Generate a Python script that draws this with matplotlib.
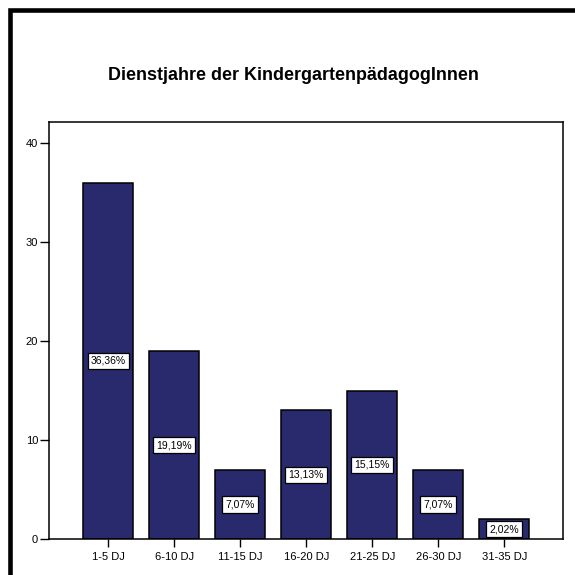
import numpy as np
import matplotlib
matplotlib.use("Agg")
import matplotlib.pyplot as plt
from matplotlib.patches import Rectangle

# data
kategorien = ["1-5 DJ", "6-10 DJ", "11-15 DJ", "16-20 DJ", "21-25 DJ", "26-30 DJ", "31-35 DJ"]
anzahl = [36, 19, 7, 13, 15, 7, 2]
prozent = ["36,36%", "19,19%", "7,07%", "13,13%", "15,15%", "7,07%", "2,02%"]
y_ticks = [0, 10, 20, 30, 40]
titel = "Dienstjahre der KindergartenpädagogInnen"

plt.rcParams["font.family"] = ["Liberation Sans", "DejaVu Sans"]

fig = plt.figure(figsize=(5.75, 5.75), dpi=100)
fig.patch.set_facecolor("white")

# thick outer frame (continues past the right/bottom edge)
fig.patches.append(Rectangle((10.4 / 575, -0.1), 1.2, 1 - 10.4 / 575 + 0.1,
                             transform=fig.transFigure, fill=False,
                             edgecolor="black", linewidth=3.3))

ax = fig.add_axes([49.3 / 575, 36 / 575, 513.4 / 575, 416.7 / 575])
x = np.arange(len(kategorien))
ax.bar(x, anzahl, width=0.76, color="#29296e", edgecolor="black", linewidth=1.1)

for xi, v, p in zip(x, anzahl, prozent):
    ax.text(xi, v / 2, p, ha="center", va="center", fontsize=7.5,
            bbox=dict(boxstyle="square,pad=0.3", facecolor="white",
                      edgecolor="black", linewidth=0.9))

ax.set_xlim(-0.894, 6.885)
ax.set_ylim(0, 42.13)
ax.set_xticks(x)
ax.set_xticklabels(kategorien, fontsize=8)
ax.set_yticks(y_ticks)
ax.set_yticklabels([str(t) for t in y_ticks], fontsize=8)
ax.tick_params(axis="y", direction="out", length=6.2, width=1.0, pad=1.8)
ax.tick_params(axis="x", direction="out", length=6, width=1.0, pad=3)
for s in ax.spines.values():
    s.set_linewidth(1.1)

fig.text(293 / 575, 1 - 75 / 575, titel, ha="center", va="center",
         fontsize=12.85, fontweight="bold")

fig.savefig("out.png", dpi=100)
